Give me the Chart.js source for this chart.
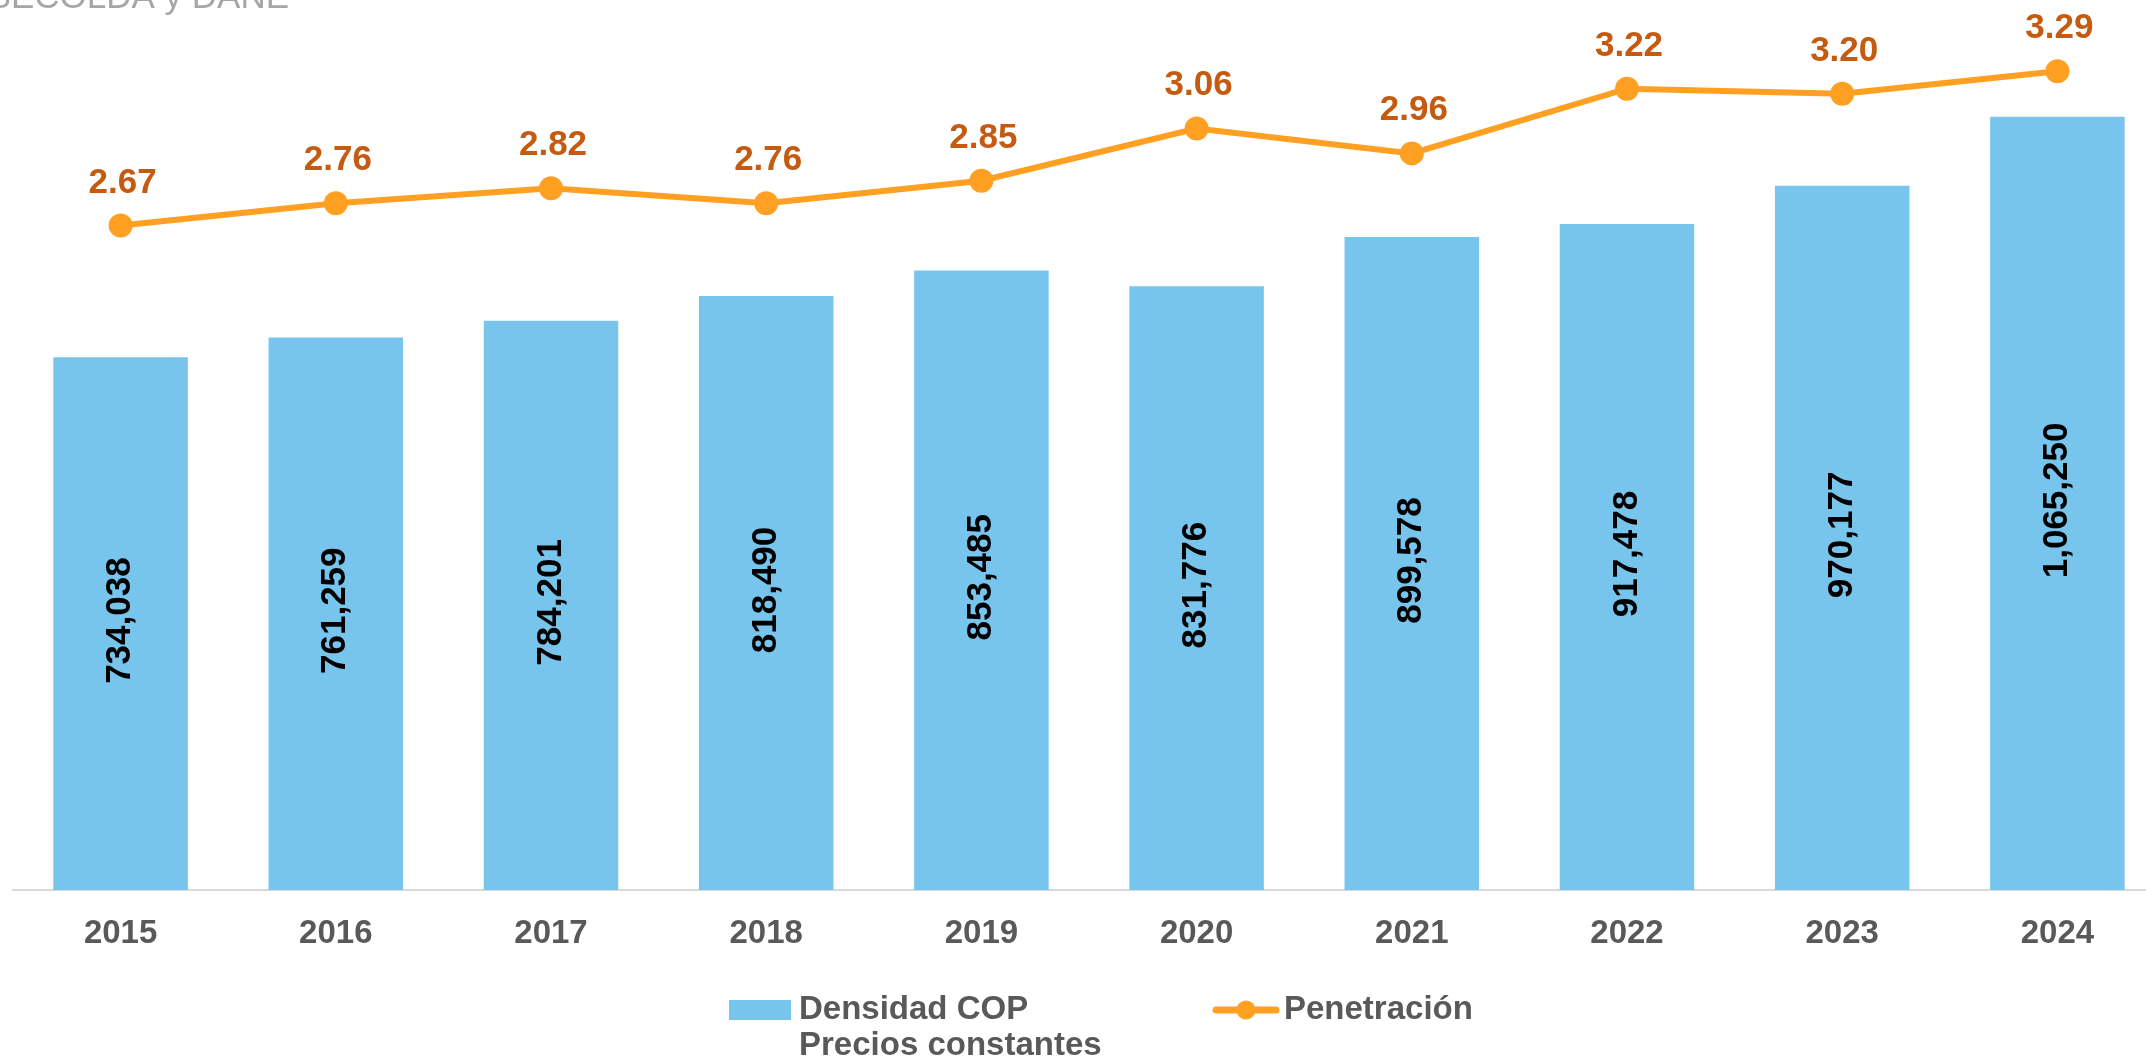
<!DOCTYPE html>
<html>
<head>
<meta charset="utf-8">
<script src="https://cdn.jsdelivr.net/npm/chart.js@4/dist/chart.umd.min.js"></script>
<style>
  html, body { margin: 0; padding: 0; background: #fff; overflow: hidden; width: 2146px; height: 1064px; }
  canvas { display: block; }
</style>
</head>
<body>
<canvas id="c" width="2177" height="1064"></canvas>
<script>
const years = ['2015','2016','2017','2018','2019','2020','2021','2022','2023','2024'];
const densidad = [734038, 761259, 784201, 818490, 853485, 831776, 899578, 917478, 970177, 1065250];
const penetracion = [2.67, 2.76, 2.82, 2.76, 2.85, 3.06, 2.96, 3.22, 3.20, 3.29];
const legendBar = ['Densidad COP', 'Precios constantes'];
const legendLine = 'Penetración';
const sourceText = 'Fuente: FASECOLDA y DANE';

const FONT = '"Liberation Sans", Arial, sans-serif';
const BAR_COLOR = '#77C4ED';
const LINE_COLOR = '#FFA023';
const LABEL_ORANGE = '#C55A11';
const GREY = '#595959';

const labelsPlugin = {
  id: 'customLabels',
  afterDatasetsDraw(chart) {
    const ctx = chart.ctx;
    const barMeta = chart.getDatasetMeta(0);
    ctx.save();
    ctx.font = 'bold 35px ' + FONT;
    ctx.fillStyle = '#000000';
    ctx.textAlign = 'center';
    ctx.textBaseline = 'middle';
    barMeta.data.forEach((bar, i) => {
      const cy = (bar.y + bar.base) / 2 - 3;
      ctx.save();
      ctx.translate(bar.x, cy);
      ctx.rotate(-Math.PI / 2);
      ctx.fillText(densidad[i].toLocaleString('en-US'), 0, 0);
      ctx.restore();
    });
    ctx.restore();
    const lineMeta = chart.getDatasetMeta(1);
    ctx.save();
    ctx.font = 'bold 35px ' + FONT;
    ctx.fillStyle = LABEL_ORANGE;
    ctx.textAlign = 'center';
    ctx.textBaseline = 'alphabetic';
    lineMeta.data.forEach((pt, i) => {
      ctx.fillText(penetracion[i].toFixed(2), pt.x + 2, pt.y - 33);
    });
    ctx.restore();
  },
  afterDraw(chart) {
    const ctx = chart.ctx;
    ctx.save();
    ctx.font = '35px ' + FONT;
    ctx.fillStyle = '#A6A6A6';
    ctx.textAlign = 'right';
    ctx.textBaseline = 'alphabetic';
    ctx.fillText(sourceText, 289, 8);

    ctx.fillStyle = BAR_COLOR;
    ctx.fillRect(729, 1000, 62, 20);
    ctx.font = 'bold 33px ' + FONT;
    ctx.fillStyle = GREY;
    ctx.textAlign = 'left';
    ctx.textBaseline = 'middle';
    ctx.fillText(legendBar[0], 799, 1010);
    ctx.fillText(legendBar[1], 799, 1046);

    ctx.strokeStyle = LINE_COLOR;
    ctx.lineWidth = 7;
    ctx.lineCap = 'round';
    ctx.beginPath();
    ctx.moveTo(1216, 1010);
    ctx.lineTo(1276, 1010);
    ctx.stroke();
    ctx.fillStyle = LINE_COLOR;
    ctx.beginPath();
    ctx.arc(1246, 1010, 9.5, 0, Math.PI * 2);
    ctx.fill();
    ctx.fillStyle = GREY;
    ctx.fillText(legendLine, 1284, 1010);
    ctx.restore();
  }
};

new Chart(document.getElementById('c'), {
  data: {
    labels: years,
    datasets: [
      {
        type: 'bar',
        label: legendBar.join(' '),
        data: densidad,
        backgroundColor: BAR_COLOR,
        borderWidth: 0,
        barPercentage: 0.625,
        categoryPercentage: 1.0,
        yAxisID: 'y',
        order: 1
      },
      {
        type: 'line',
        label: legendLine,
        data: penetracion,
        borderColor: LINE_COLOR,
        backgroundColor: LINE_COLOR,
        borderWidth: 6,
        pointRadius: 12,
        pointHoverRadius: 12,
        pointBackgroundColor: LINE_COLOR,
        pointBorderWidth: 0,
        tension: 0,
        yAxisID: 'y2',
        order: 0
      }
    ]
  },
  options: {
    responsive: false,
    animation: false,
    events: [],
    layout: { padding: { left: 13, right: 1, top: 19, bottom: 0 } },
    plugins: {
      legend: { display: false },
      tooltip: { enabled: false },
      title: { display: false }
    },
    scales: {
      x: {
        offset: true,
        grid: { display: false, drawTicks: false },
        border: { display: true, color: '#D9D9D9', width: 2 },
        ticks: {
          color: GREY,
          font: { family: FONT, size: 33, weight: 'bold' },
          padding: 24,
          maxRotation: 0,
          autoSkip: false
        },
        afterFit(scale) { scale.height = 174; }
      },
      y: {
        display: false,
        min: 0,
        max: 1200000
      },
      y2: {
        display: false,
        position: 'right',
        min: 0,
        max: 3.5
      }
    }
  },
  plugins: [labelsPlugin]
});
</script>
</body>
</html>
